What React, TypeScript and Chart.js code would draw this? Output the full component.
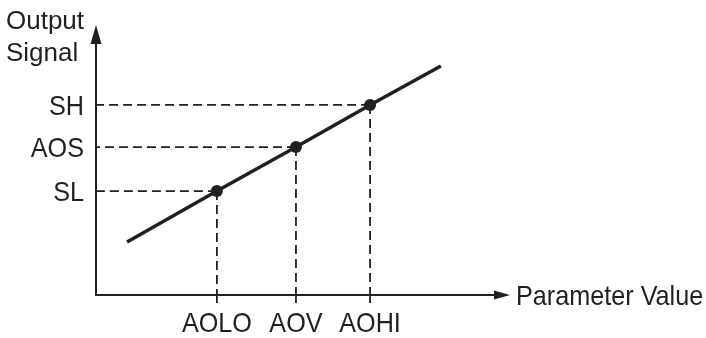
import React, { useEffect, useRef } from 'react';
import { Chart, registerables } from 'chart.js';

Chart.register(...registerables);

// ---- data (diagram units, 0..100 on both axes) ----
const xTickLabels = ['AOLO', 'AOV', 'AOHI'];
const xTickValues = [29.2, 48.3, 66.2];
const yTickLabels = ['SL', 'AOS', 'SH'];
const yTickValues = [38.5, 54.8, 70.4];
const lineX = [7.5, 29.2, 48.3, 66.2, 83.3];
const lineY = [19.6, 38.5, 54.8, 70.4, 84.8];
const markerShown = [false, true, true, true, false];
const yAxisTitle = ['Output', 'Signal'];
const xAxisTitle = 'Parameter Value';

const INK = '#231f20';
const FAMILY = '"Liberation Sans", Arial, Helvetica, sans-serif';
const LABEL_FONT = `28px ${FAMILY}`;
const TITLE_FONT = `26px ${FAMILY}`;

function drawText(ctx: CanvasRenderingContext2D, text: string, x: number, y: number, align: CanvasTextAlign, sx: number) {
  ctx.save();
  ctx.translate(x, y);
  ctx.scale(sx, 1);
  ctx.textAlign = align;
  ctx.textBaseline = 'alphabetic';
  ctx.fillText(text, 0, 0);
  ctx.restore();
}

const diagramPlugin = {
  id: 'diagram',
  beforeDatasetsDraw(chart: any) {
    const { ctx, scales } = chart;
    const xs = scales.x;
    const ys = scales.y;
    const x0 = xs.getPixelForValue(0);
    const y0 = ys.getPixelForValue(0);
    const xEnd = xs.getPixelForValue(100);
    const yEnd = ys.getPixelForValue(100);
    ctx.save();
    ctx.strokeStyle = INK;
    ctx.lineWidth = 1.8;
    ctx.setLineDash([9, 5]);
    for (let i = 0; i < xTickValues.length; i++) {
      const px = xs.getPixelForValue(xTickValues[i]);
      const py = ys.getPixelForValue(yTickValues[i]);
      ctx.beginPath();
      ctx.moveTo(px, py);
      ctx.lineTo(x0 + 1, py);
      ctx.stroke();
      ctx.beginPath();
      ctx.moveTo(px, py);
      ctx.lineTo(px, y0);
      ctx.stroke();
    }
    ctx.setLineDash([]);
    for (let i = 0; i < xTickValues.length; i++) {
      const px = xs.getPixelForValue(xTickValues[i]);
      ctx.beginPath();
      ctx.moveTo(px, y0);
      ctx.lineTo(px, y0 + 8);
      ctx.stroke();
    }
    ctx.lineWidth = 2;
    ctx.beginPath();
    ctx.moveTo(x0, y0 + 1);
    ctx.lineTo(x0, yEnd + 16);
    ctx.moveTo(x0 - 1, y0);
    ctx.lineTo(xEnd - 14, y0);
    ctx.stroke();
    ctx.fillStyle = INK;
    ctx.beginPath();
    ctx.moveTo(x0, yEnd);
    ctx.lineTo(x0 - 5.5, yEnd + 19);
    ctx.lineTo(x0 + 5.5, yEnd + 19);
    ctx.closePath();
    ctx.fill();
    ctx.beginPath();
    ctx.moveTo(xEnd, y0);
    ctx.lineTo(xEnd - 16, y0 - 4.5);
    ctx.lineTo(xEnd - 16, y0 + 4.5);
    ctx.closePath();
    ctx.fill();
    ctx.restore();
  },
  afterDraw(chart: any) {
    const { ctx, scales } = chart;
    const xs = scales.x;
    const ys = scales.y;
    const x0 = xs.getPixelForValue(0);
    const y0 = ys.getPixelForValue(0);
    const xEnd = xs.getPixelForValue(100);
    ctx.save();
    ctx.fillStyle = INK;
    ctx.font = LABEL_FONT;
    for (let i = 0; i < yTickLabels.length; i++) {
      const py = ys.getPixelForValue(yTickValues[i]);
      drawText(ctx, yTickLabels[i], x0 - 12, py + 10, 'right', 0.9);
    }
    for (let i = 0; i < xTickLabels.length; i++) {
      const px = xs.getPixelForValue(xTickValues[i]);
      drawText(ctx, xTickLabels[i], px, y0 + 37, 'center', 0.9);
    }
    drawText(ctx, xAxisTitle, xEnd + 6, y0 + 10, 'left', 0.9);
    ctx.font = TITLE_FONT;
    drawText(ctx, yAxisTitle[0], 6, 29, 'left', 1);
    drawText(ctx, yAxisTitle[1], 6, 61, 'left', 1);
    ctx.restore();
  },
};

export default function App() {
  const canvasRef = useRef<HTMLCanvasElement | null>(null);

  useEffect(() => {
    const canvas = canvasRef.current;
    if (!canvas) return;
    const chart = new Chart(canvas, {
      type: 'scatter',
      data: {
        datasets: [
          {
            data: lineX.map((v, i) => ({ x: v, y: lineY[i] })),
            showLine: true,
            borderColor: INK,
            borderWidth: 3.5,
            pointRadius: markerShown.map((m) => (m ? 6 : 0)),
            pointHoverRadius: markerShown.map((m) => (m ? 6 : 0)),
            pointBackgroundColor: INK,
            pointBorderWidth: 0,
            clip: false as any,
          },
        ],
      },
      options: {
        responsive: false,
        devicePixelRatio: 1,
        animation: false,
        events: [],
        layout: { padding: { left: 96, right: 196, top: 25, bottom: 43 } },
        plugins: {
          legend: { display: false },
          tooltip: { enabled: false },
          title: { display: false },
        },
        scales: {
          x: { type: 'linear', min: 0, max: 100, display: false },
          y: { type: 'linear', min: 0, max: 100, display: false },
        },
      },
      plugins: [diagramPlugin],
    });
    return () => chart.destroy();
  }, []);

  return (
    <div style={{ position: 'fixed', left: 0, top: 0, width: 706, height: 338, background: '#fff' }}>
      <canvas ref={canvasRef} width={706} height={338} style={{ display: 'block' }} />
    </div>
  );
}
